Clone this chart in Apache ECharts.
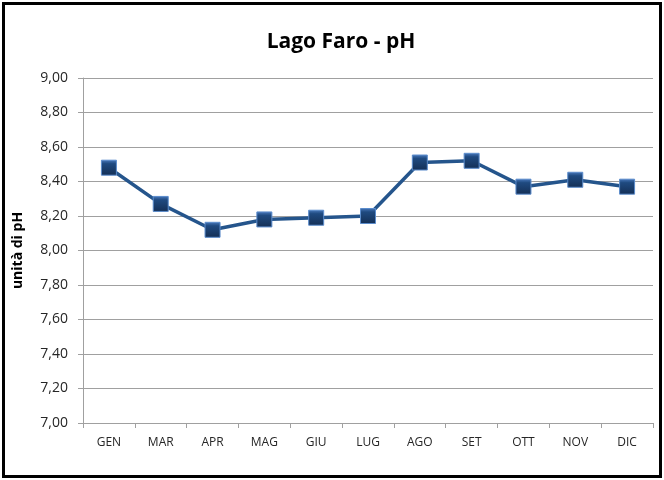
<!DOCTYPE html>
<html>
<head>
<meta charset="utf-8">
<script src="https://cdn.jsdelivr.net/npm/echarts@6/dist/echarts.min.js"></script>
<style>
html,body{margin:0;padding:0;background:#fff;}
#wrap{position:absolute;left:2px;top:2px;width:654px;height:470px;border:3px solid #000;background:#fff;}
#chart{position:absolute;left:0;top:0;width:664px;height:480px;}
</style>
</head>
<body>
<div id="wrap"></div>
<div id="chart"></div>
<script>
const titleText = 'Lago Faro - pH';
const yAxisName = 'unità di pH';
const categories = ['GEN','MAR','APR','MAG','GIU','LUG','AGO','SET','OTT','NOV','DIC'];
const phValues = [8.48, 8.27, 8.12, 8.18, 8.19, 8.20, 8.51, 8.52, 8.37, 8.41, 8.37];

const chart = echarts.init(document.getElementById('chart'), null, {renderer:'canvas'});
chart.setOption({
  backgroundColor: 'transparent',
  animation: false,
  title: {
    text: titleText,
    left: 336, top: 27, textAlign: 'center',
    textStyle: {fontFamily: 'Open Sans', fontWeight: 'bold', fontSize: 21, color: '#000'}
  },
  grid: {left: 83, right: 11, top: 78, bottom: 57, containLabel: false},
  xAxis: {
    type: 'category',
    data: categories,
    boundaryGap: true,
    axisLine: {lineStyle: {color: '#a0a0a0', width: 1}},
    axisTick: {show: true, alignWithLabel: false, length: 5, lineStyle: {color: '#a0a0a0'}},
    axisLabel: {margin: 14, fontFamily: 'Open Sans', fontSize: 12, color: '#262626'}
  },
  yAxis: {
    type: 'value',
    min: 7.0, max: 9.0, interval: 0.2,
    name: yAxisName,
    nameLocation: 'middle',
    nameGap: 58,
    nameRotate: 90,
    nameTextStyle: {fontFamily: 'Open Sans', fontWeight: 'bold', fontSize: 14, color: '#000'},
    axisLine: {show: true, lineStyle: {color: '#a0a0a0', width: 1}},
    axisTick: {show: true, length: 5, lineStyle: {color: '#a0a0a0'}},
    splitLine: {show: true, lineStyle: {color: '#a0a0a0', width: 1}},
    axisLabel: {
      margin: 15, fontFamily: 'Open Sans', fontSize: 14, color: '#262626',
      formatter: v => v.toFixed(2).replace('.', ',')
    }
  },
  series: [{
    type: 'line',
    data: phValues,
    symbol: 'rect',
    symbolSize: 15,
    lineStyle: {color: '#25558c', width: 3.5},
    itemStyle: {
      color: new echarts.graphic.LinearGradient(0, 0, 0, 1, [
        {offset: 0, color: '#4c7cc0'},
        {offset: 0.25, color: '#1f4a80'},
        {offset: 1, color: '#142f55'}
      ]),
      borderColor: '#5b8ccc',
      borderWidth: 1
    },
    z: 3
  }]
});
</script>
</body>
</html>
